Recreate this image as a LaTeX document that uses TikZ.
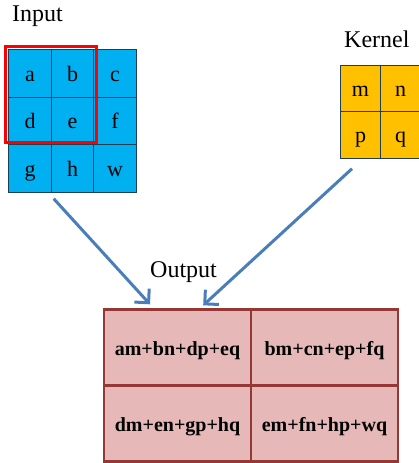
\documentclass[tikz,border=0pt]{standalone}
\usepackage{fontspec}
\setmainfont{Liberation Serif}
\usepackage{xcolor}
\usepackage{tikz}
\usetikzlibrary{arrows.meta,positioning,calc}
\definecolor{incyan}{HTML}{00B0F0}
\definecolor{kernamber}{HTML}{FFC000}
\definecolor{outpink}{HTML}{E6B9B8}
\definecolor{outedge}{HTML}{953735}
\definecolor{gridedge}{HTML}{1F3F55}
\definecolor{arrowblue}{HTML}{4A7EBB}
\begin{document}
\begin{tikzpicture}[x=1pt,y=-1pt,
			incell/.style={draw=gridedge,line width=0.9pt,fill=incyan,
					minimum width=42.5pt,minimum height=47.5pt,inner sep=0pt,
					text height=16pt,text depth=1pt,
					font=\fontsize{22}{26}\selectfont},
			kcell/.style={draw=gridedge,line width=0.9pt,fill=kernamber,
					minimum width=40pt,minimum height=46.5pt,inner sep=0pt,
					text height=16pt,text depth=1pt,
					font=\fontsize{22}{26}\selectfont},
			ocell/.style={draw=outedge,line width=2.4pt,fill=outpink,
					minimum width=147pt,minimum height=76pt,inner sep=0pt,
					text height=16pt,text depth=0pt,
					font=\fontsize{20}{24}\selectfont\bfseries},
			title/.style={anchor=base west,inner sep=0pt,font=\fontsize{24}{28}\selectfont},
			flow/.style={draw=arrowblue,line width=3pt,
					-{Straight Barb[length=10pt,width=20pt,line width=3pt]}},
		]
		\useasboundingbox (0,0) rectangle (419,463);
		% input 3x3
		\node[title] (tin) at (12,21) {Input};
		\node[incell] (a) at (30,73.5) {a};
		\node[incell] (b) at (72.5,73.5) {b};
		\node[incell] (c) at (115,73.5) {c};
		\node[incell] (d) at (30,121) {d};
		\node[incell] (e) at (72.5,121) {e};
		\node[incell] (f) at (115,121) {f};
		\node[incell] (g) at (30,168.5) {g};
		\node[incell] (h) at (72.5,168.5) {h};
		\node[incell] (w) at (115,168.5) {w};
		\draw[red,line width=2.6pt] ([shift={(-3,-3)}]a.north west) rectangle ([shift={(2,-3)}]e.south east);
		% kernel 2x2
		\node[title] (tker) at (344,47) {Kernel};
		\node[kcell] (m) at (360.5,88.5) {m};
		\node[kcell] (n) at (400.5,88.5) {n};
		\node[kcell] (p) at (360.5,135) {p};
		\node[kcell] (q) at (400.5,135) {q};
		% output 2x2
		\node[title] (tout) at (150,277) {Output};
		\node[ocell] (oa) at (177.5,347.5) {am+bn+dp+eq};
		\node[ocell] (ob) at (324.5,347.5) {bm+cn+ep+fq};
		\node[ocell] (oc) at (177.5,423.5) {dm+en+gp+hq};
		\node[ocell] (od) at (324.5,423.5) {em+fn+hp+wq};
		\coordinate (inTail) at ([shift={(2,6)}]g.south east);
		\coordinate (inHead) at ([shift={(-27.5,-4)}]oa.north);
		\coordinate (kTail) at ([shift={(-8.5,10)}]p.south);
		\coordinate (kHead) at ([shift={(-49,-3)}]oa.north east);
		\draw[flow] (inTail) -- (inHead);
		\draw[flow] (kTail) -- (kHead);
	\end{tikzpicture}
\end{document}
